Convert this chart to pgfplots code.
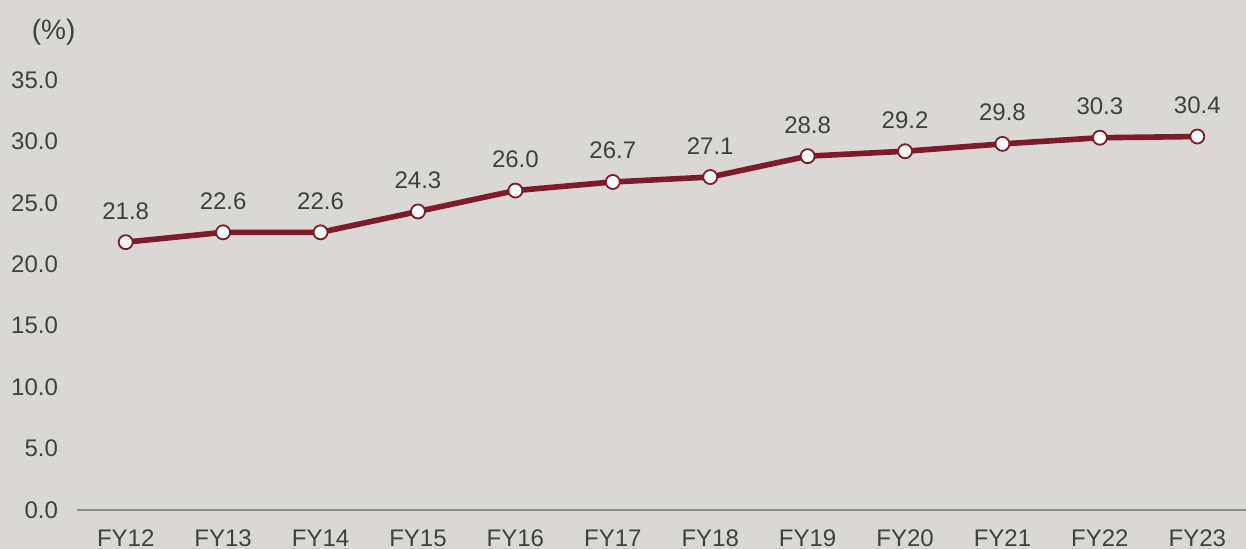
\documentclass[border=0pt]{standalone}
\usepackage{pgfplots}
\pgfplotsset{compat=1.18}
\usepackage{fontspec}
\setmainfont{Liberation Sans}
\definecolor{bg}{HTML}{D9D8D4}
\definecolor{ln}{HTML}{7E1A2A}
\definecolor{txt}{HTML}{404040}
\definecolor{axc}{HTML}{8A8A8A}
\begin{document}
\begin{tikzpicture}[x=1pt,y=1pt]
\fill[bg] (0,0) rectangle (623,274.5);
\useasboundingbox (0,0) rectangle (623,274.5);
\node[font=\fontsize{14}{16}\selectfont, text=txt] at (26.8,258.5) {(\%)};
\begin{axis}[
  at={(38.5pt,19.5pt)}, anchor=south west,
  scale only axis, width=584.5pt, height=215pt,
  xmin=-0.5, xmax=11.5, ymin=0, ymax=35,
  axis x line=bottom, axis y line=left,
  x axis line style={draw=axc, line width=0.6pt, -},
  y axis line style={draw=none},
  xtick=data,
  xticklabels={FY12,FY13,FY14,FY15,FY16,FY17,FY18,FY19,FY20,FY21,FY22,FY23},
  ytick={0,5,...,35},
  major tick length=0pt,
  tick label style={font=\fontsize{12}{14}\selectfont, text=txt},
  x tick label style={yshift=-6.5pt},
  y tick label style={xshift=-6pt},
  yticklabel={\pgfmathprintnumber[fixed,zerofill,precision=1]{\tick}},
  /pgf/number format/assume math mode=true,
  clip=false,
  nodes near coords={\pgfmathprintnumber[fixed,zerofill,precision=1,assume math mode=true]{\pgfplotspointmeta}},
  every node near coord/.style={anchor=south, inner sep=0pt, yshift=11pt, font=\fontsize{12}{14}\selectfont, text=txt},
]
\addplot[ln, line width=2.8pt, mark=*, mark size=3.5pt, mark options={fill=white, draw=ln, line width=0.9pt}]
coordinates {(0,21.8)(1,22.6)(2,22.6)(3,24.3)(4,26.0)(5,26.7)(6,27.1)(7,28.8)(8,29.2)(9,29.8)(10,30.3)(11,30.4)};
\end{axis}
\end{tikzpicture}
\end{document}
